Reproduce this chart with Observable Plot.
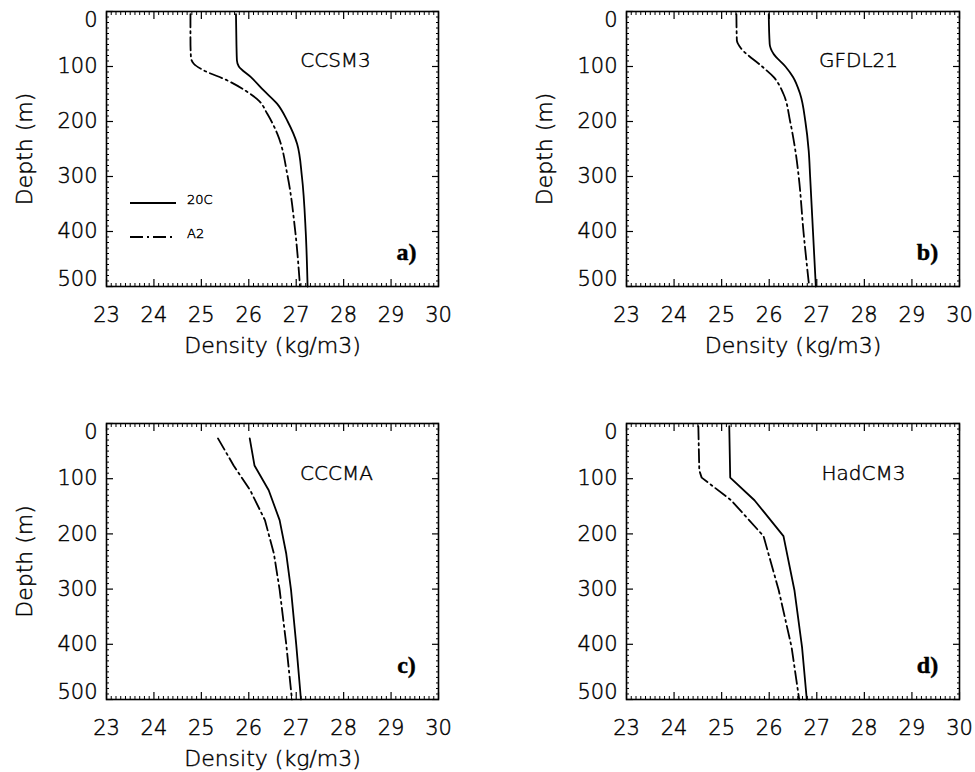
<!DOCTYPE html>
<html>
<head>
<meta charset="utf-8">
<script src="https://cdn.jsdelivr.net/npm/d3@7"></script>
<script src="https://cdn.jsdelivr.net/npm/@observablehq/plot@0.6"></script>
<style>
  html, body { margin: 0; padding: 0; background: #fff; }
  #chart { position: relative; width: 975px; height: 772px; background: #fff; }
  #chart svg { position: absolute; }
  #chart svg text { fill: #000; stroke: #000; stroke-width: 0.45px; }
</style>
</head>
<body>
<div id="chart"></div>
<script>
// ---- axis ticks ----
const xTicks = [23, 24, 25, 26, 27, 28, 29, 30];
const yTicks = [0, 100, 200, 300, 400, 500];
const xLabel = "Density (kg/m3)";
const yLabel = "Depth (m)";
const legendLabels = ["20C", "A2"];

// ---- panel names ----
const modelNames = ["CCSM3", "GFDL21", "CCCMA", "HadCM3"];
const panelLetters = ["a)", "b)", "c)", "d)"];

// ---- a) CCSM3 ----
const aDepth20 = [5, 60, 89, 100, 119, 144, 168, 200, 241, 300, 400, 500];
const aRho20   = [25.73, 25.74, 25.75, 25.79, 26.04, 26.32, 26.6, 26.82, 27.02, 27.12, 27.2, 27.24];
const aDepthA2 = [5, 50, 83, 95, 107, 125, 144, 162, 186, 222, 300, 400, 500];
const aRhoA2   = [24.77, 24.77, 24.78, 24.84, 25.05, 25.54, 25.93, 26.21, 26.39, 26.6, 26.82, 26.98, 27.08];

// ---- b) GFDL21 ----
const bDepth20 = [5, 59, 77, 100, 119, 150, 200, 253, 300, 400, 500];
const bRho20   = [25.99, 26.01, 26.09, 26.34, 26.5, 26.65, 26.76, 26.83, 26.86, 26.92, 26.98];
const bDepthA2 = [5, 53, 65, 100, 119, 150, 200, 253, 300, 400, 500];
const bRhoA2   = [25.31, 25.32, 25.39, 25.85, 26.09, 26.3, 26.44, 26.55, 26.62, 26.72, 26.84];

// ---- c) CCCMA ----
const cDepth20 = [27, 76, 121, 175, 236, 301, 400, 500];
const cRho20   = [26.02, 26.12, 26.42, 26.65, 26.79, 26.89, 27.0, 27.1];
const cDepthA2 = [27, 76, 121, 175, 236, 301, 400, 500];
const cRhoA2   = [25.35, 25.68, 26.03, 26.34, 26.53, 26.65, 26.79, 26.91];

// ---- d) HadCM3 ----
const dDepth20 = [5, 98, 139, 204, 302, 405, 500];
const dRho20   = [25.16, 25.18, 25.69, 26.3, 26.53, 26.69, 26.79];
const dDepthA2 = [5, 85, 98, 139, 204, 302, 405, 500];
const dRhoA2   = [24.51, 24.53, 24.58, 25.2, 25.88, 26.2, 26.47, 26.63];

const FONT = "'DejaVu Sans', 'Open Sans', sans-serif";
const DASH = "13,4,2,4";

const xMinor = d3.range(230, 301).map(v => v / 10).filter(v => !xTicks.includes(v));
const yMinor = d3.range(0, 501, 10).filter(v => !yTicks.includes(v));

function tickMarks() {
  const none = () => "";
  return [
    Plot.axisX(xMinor, {anchor: "bottom", tickSize: -3, tickFormat: none, label: null, strokeWidth: 1}),
    Plot.axisX(xMinor, {anchor: "top", tickSize: -3, tickFormat: none, label: null, strokeWidth: 1}),
    Plot.axisX(xTicks, {anchor: "bottom", tickSize: -7, tickFormat: none, label: null, strokeWidth: 1.2}),
    Plot.axisX(xTicks, {anchor: "top", tickSize: -7, tickFormat: none, label: null, strokeWidth: 1.2}),
    Plot.axisY(yMinor, {anchor: "left", tickSize: -3, tickFormat: none, label: null, strokeWidth: 1}),
    Plot.axisY(yMinor, {anchor: "right", tickSize: -3, tickFormat: none, label: null, strokeWidth: 1}),
    Plot.axisY(yTicks, {anchor: "left", tickSize: -7, tickFormat: none, label: null, strokeWidth: 1.2}),
    Plot.axisY(yTicks, {anchor: "right", tickSize: -7, tickFormat: none, label: null, strokeWidth: 1.2}),
    // labels
    Plot.axisX(xTicks, {anchor: "bottom", tickSize: 0, tickPadding: 21, label: null, fontSize: 21}),
    Plot.axisY(yTicks.slice(1, -1), {anchor: "left", tickSize: 0, tickPadding: 9, label: null, fontSize: 21}),
    Plot.axisY(yTicks.slice(0, 1), {anchor: "left", tickSize: 0, tickPadding: 9, label: null, fontSize: 21, dy: 9}),
    Plot.axisY(yTicks.slice(-1), {anchor: "left", tickSize: 0, tickPadding: 9, label: null, fontSize: 21, dy: -7})
  ];
}

function legendMark(index, scales, values, dimensions) {
  const g = d3.create("svg:g");
  const x0 = dimensions.marginLeft, y0 = dimensions.marginTop;
  const items = [
    {label: legendLabels[0], dash: null, y: 192, len: 46},
    {label: legendLabels[1], dash: DASH, y: 226, len: 42}
  ];
  for (const it of items) {
    g.append("line")
      .attr("x1", x0 + 24).attr("x2", x0 + 24 + it.len)
      .attr("y1", y0 + it.y).attr("y2", y0 + it.y)
      .attr("stroke", "black").attr("stroke-width", 1.8)
      .attr("stroke-dasharray", it.dash);
    g.append("text")
      .attr("x", x0 + 81).attr("y", y0 + it.y - 3)
      .attr("font-size", 13).attr("font-family", FONT)
      .attr("text-anchor", "start")
      .attr("dominant-baseline", "middle")
      .text(it.label);
  }
  return g.node();
}

function panel(cfg) {
  const marks = [
    Plot.frame({strokeWidth: 1.6}),
    ...tickMarks(),
    Plot.line(cfg.rho20, {x: cfg.rho20, y: cfg.depth20, curve: cfg.curve, stroke: "black", strokeWidth: 1.8}),
    Plot.line(cfg.rhoA2, {x: cfg.rhoA2, y: cfg.depthA2, curve: cfg.curve, stroke: "black", strokeWidth: 1.8, strokeDasharray: DASH}),
    Plot.text([cfg.name], {frameAnchor: "top-right", dx: cfg.nameDx, dy: cfg.nameDy, textAnchor: "middle", lineAnchor: "middle",
      fontSize: 20, letterSpacing: "1.5px"}),
    Plot.text([cfg.letter], {frameAnchor: "bottom-right", dx: -32, dy: -34, textAnchor: "middle", lineAnchor: "middle",
      fontSize: 24, fontWeight: "bold", fontFamily: "'Liberation Serif', 'Times New Roman', serif"})
  ];
  if (cfg.yTitle) marks.push(Plot.text([yLabel], {frameAnchor: "left", dx: -82, rotate: -90, textAnchor: "middle", lineAnchor: "middle",
    fontSize: 22, letterSpacing: "1px"}));
  if (cfg.xTitle) marks.push(Plot.text([xLabel], {frameAnchor: "bottom", dy: 59, textAnchor: "middle", lineAnchor: "middle",
    fontSize: 22, letterSpacing: "1.2px"}));
  if (cfg.legend) marks.push(legendMark);
  const svg = Plot.plot({
    width: cfg.width, height: 386,
    marginLeft: cfg.ml, marginRight: cfg.mr, marginTop: cfg.mt, marginBottom: cfg.mb,
    x: {domain: [23, 30]},
    y: {domain: [0, 500], reverse: true},
    style: {fontFamily: FONT, fontWeight: 300, fontSize: "21px", background: "white", color: "black", overflow: "visible"},
    marks
  });
  svg.style.left = cfg.left + "px";
  svg.style.top = cfg.top + "px";
  return svg;
}

const chart = document.getElementById("chart");
chart.append(panel({left: 0, top: 0, width: 487, ml: 106, mr: 49, mt: 11, mb: 100,
  rho20: aRho20, depth20: aDepth20, rhoA2: aRhoA2, depthA2: aDepthA2, curve: "monotone-y",
  name: modelNames[0], letter: panelLetters[0], nameDx: -103, nameDy: 49, yTitle: true, xTitle: true, legend: true}));
chart.append(panel({left: 487, top: 0, width: 488, ml: 139, mr: 16, mt: 11, mb: 100,
  rho20: bRho20, depth20: bDepth20, rhoA2: bRhoA2, depthA2: bDepthA2, curve: "monotone-y",
  name: modelNames[1], letter: panelLetters[1], nameDx: -101, nameDy: 49, yTitle: true, xTitle: true}));
chart.append(panel({left: 0, top: 386, width: 487, ml: 106, mr: 49, mt: 37, mb: 73,
  rho20: cRho20, depth20: cDepth20, rhoA2: cRhoA2, depthA2: cDepthA2, curve: "linear",
  name: modelNames[2], letter: panelLetters[2], nameDx: -102, nameDy: 50, yTitle: true, xTitle: true}));
chart.append(panel({left: 487, top: 386, width: 488, ml: 139, mr: 16, mt: 37, mb: 73,
  rho20: dRho20, depth20: dDepth20, rhoA2: dRhoA2, depthA2: dDepthA2, curve: "linear",
  name: modelNames[3], letter: panelLetters[3], nameDx: -96, nameDy: 50}));
</script>
</body>
</html>
